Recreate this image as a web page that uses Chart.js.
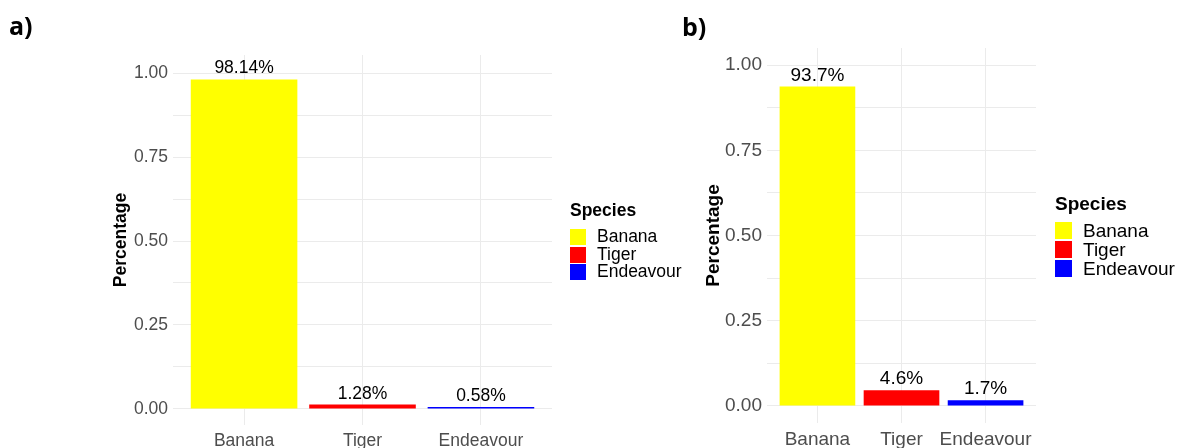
<!DOCTYPE html>
<html>
<head>
<meta charset="utf-8">
<script src="https://cdn.jsdelivr.net/npm/chart.js@4.4.1/dist/chart.umd.min.js"></script>
<style>
  html, body { margin: 0; padding: 0; background: #fff; }
  body { width: 1183px; height: 448px; position: relative; overflow: hidden; font-family: "Liberation Sans", Arial, sans-serif; }
  .panel { position: absolute; top: 0; height: 448px; }
  .tag { position: absolute; font-family: "Open Sans", sans-serif; font-weight: 700; font-size: 25px; line-height: 1; color: #000; }
  .legend { position: absolute; color: #000; }
  .legend div { position: absolute; line-height: 1; white-space: nowrap; }
  .legend .key { width: 16px; height: 16px; }
</style>
</head>
<body>
<div class="panel" style="left:0;width:680px"><canvas id="chartA"></canvas></div>
<div class="panel" style="left:680px;width:503px"><canvas id="chartB"></canvas></div>
<div class="tag" style="left:9px;top:13px">a)</div>
<div class="tag" style="left:682px;top:14px">b)</div>
<div class="legend" id="legendA"></div>
<div class="legend" id="legendB"></div>
<script>
// data
const species = ["Banana", "Tiger", "Endeavour"];
const colors = ["#ffff00", "#ff0000", "#0000ff"];
const shareA = [0.9814, 0.0128, 0.0058];
const labelsA = ["98.14%", "1.28%", "0.58%"];
const shareB = [0.937, 0.046, 0.017];
const labelsB = ["93.7%", "4.6%", "1.7%"];
const yGridValues = [0, 0.125, 0.25, 0.375, 0.5, 0.625, 0.75, 0.875, 1];
const yLabelValues = [0, 0.25, 0.5, 0.75, 1];

const gridColor = "#ebebeb";
const tickColor = "#4d4d4d";

// text over each bar
const barLabels = {
    id: "barLabels",
    afterDatasetsDraw(chart, args, opts) {
        const ctx = chart.ctx;
        const meta = chart.getDatasetMeta(0);
        ctx.save();
        ctx.font = opts.size + "px 'Liberation Sans', Arial, sans-serif";
        ctx.fillStyle = "#000";
        ctx.textAlign = "center";
        ctx.textBaseline = "alphabetic";
        meta.data.forEach((bar, i) => {
            ctx.fillText(opts.texts[i], bar.x, bar.y - 6);
        });
        ctx.restore();
    }
};

function makeChart(id, values, texts, cfg) {
    const ctx = document.getElementById(id).getContext("2d");
    return new Chart(ctx, {
        type: "bar",
        data: {
            datasets: [{
                data: values.map((v, i) => ({ x: i, y: v })),
                backgroundColor: colors,
                borderWidth: 0,
                barPercentage: 0.9,
                categoryPercentage: 1.0
            }]
        },
        options: {
            responsive: true,
            maintainAspectRatio: false,
            animation: false,
            layout: { padding: { left: cfg.padLeft, right: cfg.padRight, top: cfg.padTop, bottom: 0 } },
            plugins: {
                legend: { display: false },
                tooltip: { enabled: false },
                barLabels: { texts: texts, size: cfg.font }
            },
            scales: {
                x: {
                    type: "linear",
                    min: -0.6,
                    max: 2.6,
                    offset: false,
                    afterBuildTicks: s => { s.ticks = species.map((_, i) => ({ value: i })); },
                    afterFit: s => { s.height = cfg.xHeight; },
                    grid: { color: gridColor, drawTicks: false, offset: false },
                    border: { display: false },
                    ticks: {
                        autoSkip: false,
                        maxRotation: 0,
                        padding: cfg.xPad,
                        color: tickColor,
                        font: { size: cfg.font, family: "'Liberation Sans', Arial, sans-serif" },
                        callback: v => species[v]
                    }
                },
                y: {
                    min: cfg.yMin,
                    max: cfg.yMax,
                    afterBuildTicks: s => { s.ticks = yGridValues.map(v => ({ value: v })); },
                    afterFit: s => { s.width = cfg.yWidth; },
                    grid: { color: gridColor, drawTicks: false },
                    border: { display: false },
                    ticks: {
                        autoSkip: false,
                        padding: 5,
                        color: tickColor,
                        font: { size: cfg.font, family: "'Liberation Sans', Arial, sans-serif" },
                        callback: v => yLabelValues.includes(v) ? v.toFixed(2) : ""
                    },
                    title: {
                        display: true,
                        text: "Percentage",
                        color: "#000",
                        padding: { top: cfg.titlePad, bottom: 0 },
                        font: { size: cfg.font, weight: "bold", family: "'Liberation Sans', Arial, sans-serif" }
                    }
                }
            }
        },
        plugins: [barLabels]
    });
}

function makeLegend(id, left, top, size, step) {
    const box = document.getElementById(id);
    box.style.left = left + "px";
    box.style.top = top + "px";
    box.style.fontSize = size + "px";
    let html = '<div style="left:0;top:0;font-weight:bold">Species</div>';
    species.forEach((name, i) => {
        const y = Math.round(step.first + i * step.gap);
        html += '<div class="key" style="left:0;top:' + (y + 1) + 'px;width:' + step.key + 'px;height:' + step.keyH + 'px;background:' + colors[i] + '"></div>';
        html += '<div style="left:' + step.text + 'px;top:' + y + 'px">' + name + '</div>';
    });
    box.innerHTML = html;
}

makeChart("chartA", shareA, labelsA, {
    padLeft: 100, padRight: 128, padTop: 55, yWidth: 73, xHeight: 23, xPad: 6,
    titlePad: 11, font: 17.5, yMin: -0.048, yMax: 1.054
});
makeChart("chartB", shareB, labelsB, {
    padLeft: 10, padRight: 147, padTop: 48, yWidth: 77, xHeight: 25, xPad: 5,
    titlePad: 12, font: 19, yMin: -0.05, yMax: 1.05
});

makeLegend("legendA", 570, 202, 17.5, { first: 26, gap: 17.5, key: 16, keyH: 16, text: 27 });
makeLegend("legendB", 1055, 194, 19, { first: 27, gap: 19, key: 17, keyH: 17, text: 28 });
</script>
</body>
</html>
